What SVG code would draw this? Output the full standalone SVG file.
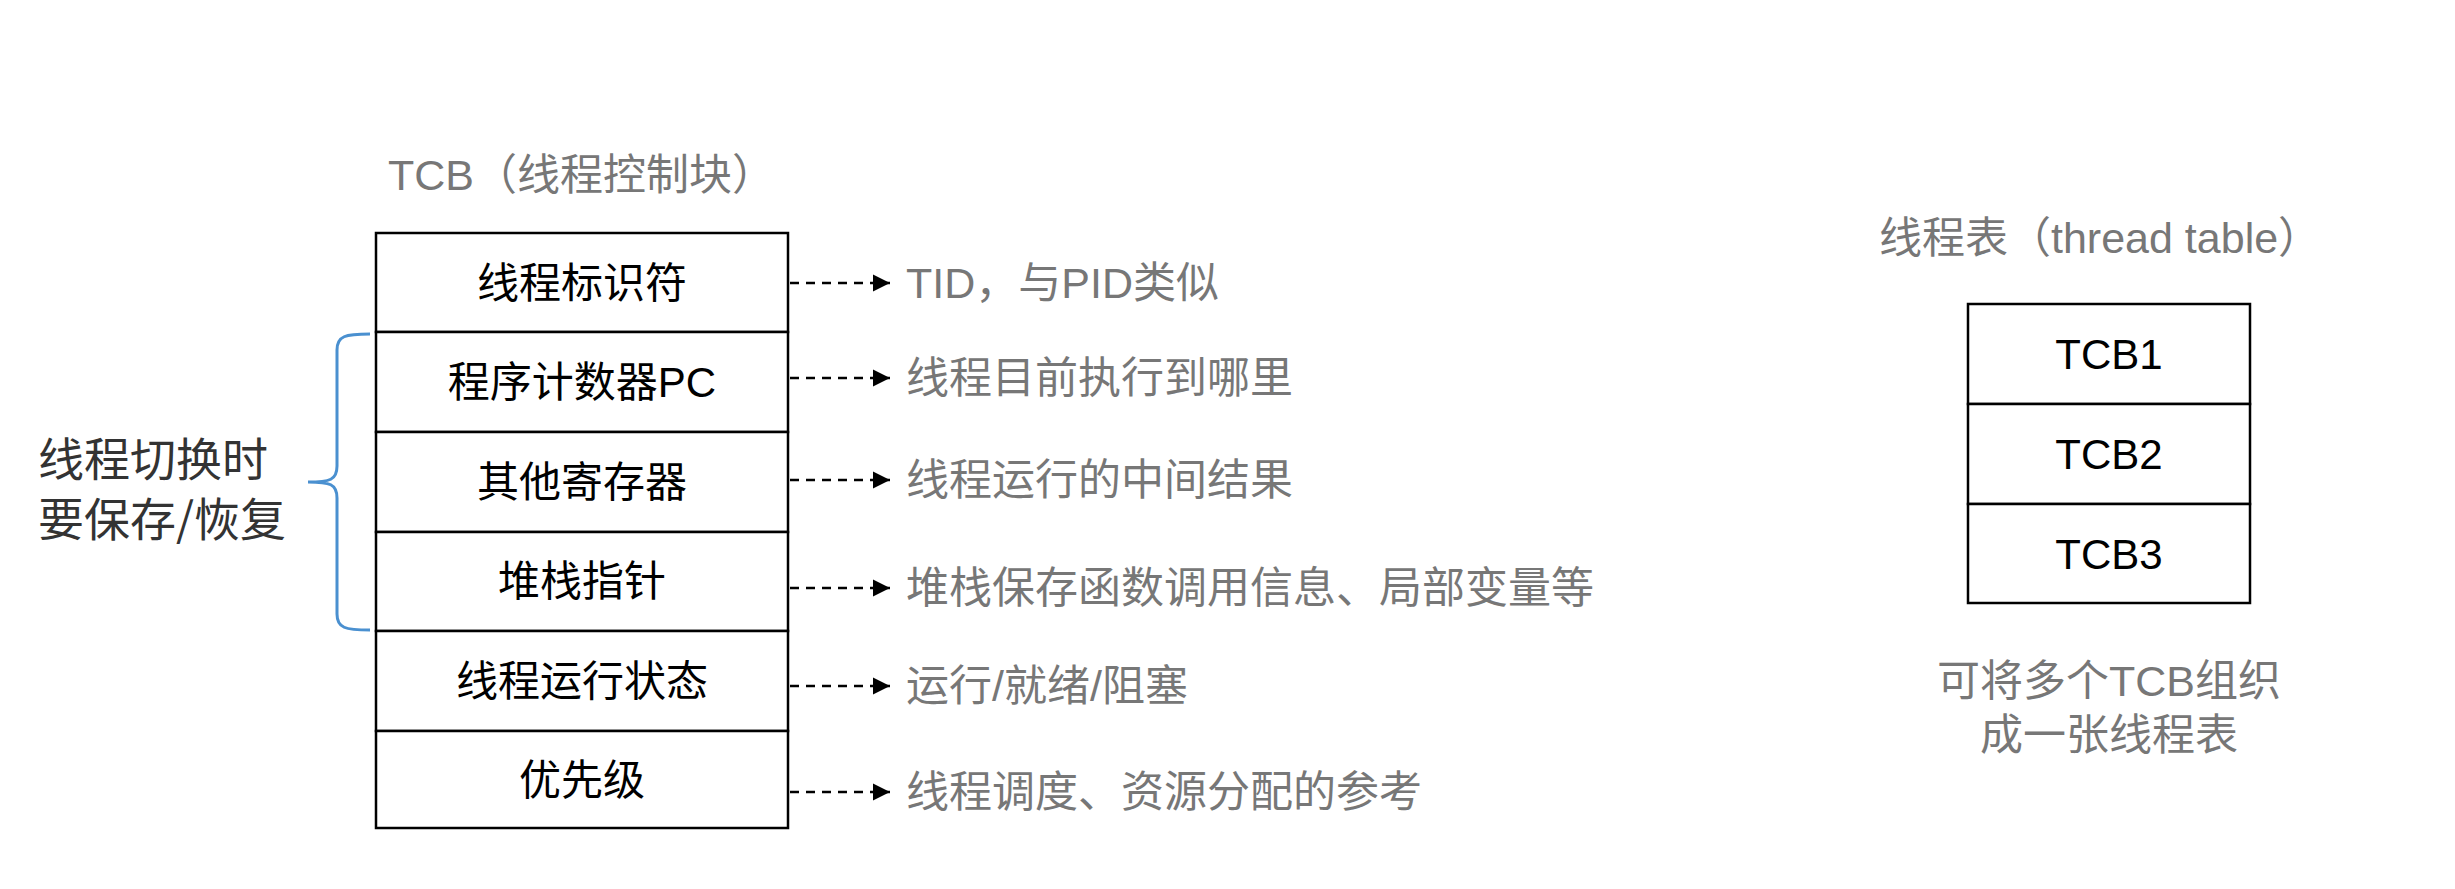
<svg xmlns="http://www.w3.org/2000/svg" width="2455" height="889" viewBox="0 0 2455 889">
<style>
.cell{fill:#fff;stroke:#000;stroke-width:2.5}
.t{font-family:"Liberation Sans","Noto Sans CJK SC",sans-serif;font-size:42px;fill:#000;text-anchor:middle}
.g{font-family:"Liberation Sans","Noto Sans CJK SC",sans-serif;font-size:43px;fill:#777}
.c{stroke:#000;stroke-width:2.5;stroke-dasharray:9,7;fill:none}
</style>
<defs><marker id="a" viewBox="0 0 10 10" refX="10" refY="5" markerWidth="7" markerHeight="7" markerUnits="strokeWidth" orient="auto"><path d="M0,0L10,5L0,10z" fill="#000"/></marker></defs>
<rect width="2455" height="889" fill="#fff"/>
<text class="g" x="388" y="190" font-size="40">TCB（线程控制块）</text>
<g id="tcb">
<g id="r1"><rect class="cell" x="376" y="233" width="412" height="99"/><text class="t" x="582" y="298">线程标识符</text></g>
<g id="r2"><rect class="cell" x="376" y="332" width="412" height="100"/><text class="t" x="582" y="397">程序计数器PC</text></g>
<g id="r3"><rect class="cell" x="376" y="432" width="412" height="100"/><text class="t" x="582" y="497">其他寄存器</text></g>
<g id="r4"><rect class="cell" x="376" y="532" width="412" height="99"/><text class="t" x="582" y="596">堆栈指针</text></g>
<g id="r5"><rect class="cell" x="376" y="631" width="412" height="100"/><text class="t" x="582" y="696">线程运行状态</text></g>
<g id="r6"><rect class="cell" x="376" y="731" width="412" height="97"/><text class="t" x="582" y="795">优先级</text></g>
</g>
<g id="connectors">
<line class="c" x1="790" y1="283" x2="890" y2="283" marker-end="url(#a)"/>
<line class="c" x1="790" y1="378" x2="890" y2="378" marker-end="url(#a)"/>
<line class="c" x1="790" y1="480" x2="890" y2="480" marker-end="url(#a)"/>
<line class="c" x1="790" y1="588" x2="890" y2="588" marker-end="url(#a)"/>
<line class="c" x1="790" y1="686" x2="890" y2="686" marker-end="url(#a)"/>
<line class="c" x1="790" y1="792" x2="890" y2="792" marker-end="url(#a)"/>
</g>
<g id="labels">
<text class="g" x="906" y="298">TID，与PID类似</text>
<text class="g" x="906" y="393">线程目前执行到哪里</text>
<text class="g" x="906" y="495">线程运行的中间结果</text>
<text class="g" x="906" y="603">堆栈保存函数调用信息、局部变量等</text>
<text class="g" x="906" y="701">运行/就绪/阻塞</text>
<text class="g" x="906" y="807">线程调度、资源分配的参考</text>
</g>
<g id="brace">
<path d="M370,334 C345,334 337,336 337,350 L337,466 C337,480 330,482 308,482 C330,482 337,484 337,498 L337,614 C337,628 345,630 370,630" fill="none" stroke="#4a90d0" stroke-width="3"/>
<text font-family="'Noto Sans CJK SC',sans-serif" font-size="46" fill="#333" x="38" y="476">线程切换时</text>
<text font-family="'Noto Sans CJK SC',sans-serif" font-size="46" fill="#333" x="38" y="536">要保存/恢复</text>
</g>
<text class="g" x="1879" y="253" font-size="42">线程表（thread table）</text>
<g id="table">
<g id="tcb1"><rect class="cell" x="1968" y="304" width="282" height="100"/><text class="t" x="2109" y="369" font-size="43">TCB1</text></g>
<g id="tcb2"><rect class="cell" x="1968" y="404" width="282" height="100"/><text class="t" x="2109" y="469" font-size="43">TCB2</text></g>
<g id="tcb3"><rect class="cell" x="1968" y="504" width="282" height="99"/><text class="t" x="2109" y="569" font-size="43">TCB3</text></g>
</g>
<text class="g" x="2109" y="696" text-anchor="middle">可将多个TCB组织</text>
<text class="g" x="2109" y="750" text-anchor="middle">成一张线程表</text>
</svg>
